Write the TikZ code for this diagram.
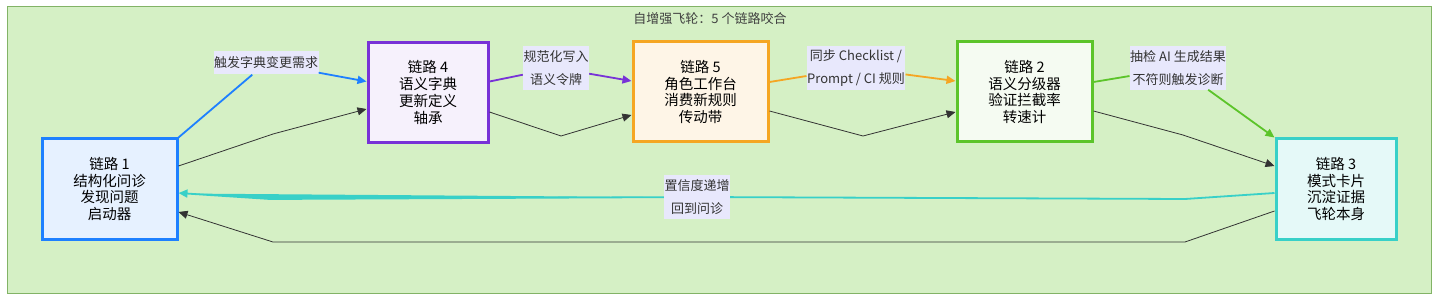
\documentclass[tikz,border=0pt]{standalone}
\usepackage{fontspec}
\setmainfont{Noto Sans CJK SC}
\usetikzlibrary{arrows.meta}
\definecolor{wheelbg}{RGB}{213,240,197}
\definecolor{wheelrim}{RGB}{130,179,102}
\definecolor{tagbg}{RGB}{232,232,252}
\definecolor{linkblue}{RGB}{30,128,255}
\definecolor{linkpurple}{RGB}{120,50,215}
\definecolor{linkorange}{RGB}{245,166,35}
\definecolor{linkgreen}{RGB}{92,196,42}
\definecolor{linkteal}{RGB}{56,208,200}

\begin{document}
\begin{tikzpicture}[x=1pt,y=-1pt,
  link/.style={draw,line width=3pt,align=center,inner sep=0pt,minimum height=100pt,font=\fontsize{14.5}{16.8}\selectfont},
  tag/.style={fill=tagbg,align=center,text=black!80,inner xsep=0.5pt,inner ysep=4pt,minimum height=23pt,font=\fontsize{13}{23}\selectfont},
  flow/.style={-{Triangle[length=9pt,width=8pt]},line width=1.8pt},
  back/.style={-{Triangle[length=9pt,width=8pt]},draw=black!80,line width=0.8pt},
]
\useasboundingbox (0,0) rectangle (1438,302);
\draw[fill=wheelbg,draw=wheelrim,line width=1pt] (7,7) rectangle (1431,293);
\node[font=\fontsize{13}{15}\selectfont,text=black!75] (title) at (710,19) {自增强飞轮：5 个链路咬合};

\node[link,draw=linkblue,fill=linkblue!11,minimum width=135pt] (l1) at (109.5,189) {链路 1\\结构化问诊\\发现问题\\启动器};
\node[link,draw=linkpurple,fill=linkpurple!7,minimum width=120pt] (l4) at (428,92.5) {链路 4\\语义字典\\更新定义\\轴承};
\node[link,draw=linkorange,fill=linkorange!11,minimum width=135pt] (l5) at (700.5,92) {链路 5\\角色工作台\\消费新规则\\传动带};
\node[link,draw=linkgreen,fill=linkgreen!6,minimum width=135pt] (l2) at (1024.5,92) {链路 2\\语义分级器\\验证拦截率\\转速计};
\node[link,draw=linkteal,fill=linkteal!13,minimum width=120pt] (l3) at (1336,189) {链路 3\\模式卡片\\沉淀证据\\飞轮本身};

\node[tag] (t14) at (266,63) {触发字典变更需求};
\node[tag] (t45) at (556,68) {规范化写入\\语义令牌};
\node[tag] (t52) at (856,68) {同步 Checklist /\\Prompt / CI 规则};
\node[tag] (t23) at (1178,68) {抽检 AI 生成结果\\不符则触发诊断};
\node[tag] (t31) at (697,197) {置信度递增\\回到问诊};

\draw[flow,-,draw=linkblue] (l1.north east) -- (t14);
\draw[flow,draw=linkblue,fill=linkblue] (t14) -- ([yshift=11pt]l4.west);
\draw[flow,-,draw=linkpurple] ([yshift=11pt]l4.east) -- (t45);
\draw[flow,draw=linkpurple,fill=linkpurple] (t45) -- ([yshift=11pt]l5.west);
\draw[flow,-,draw=linkorange] ([yshift=10pt]l5.east) -- (t52);
\draw[flow,draw=linkorange,fill=linkorange] (t52) -- ([yshift=11pt]l2.west);
\draw[flow,-,draw=linkgreen] ([yshift=10pt]l2.east) -- (t23);
\draw[flow,draw=linkgreen,fill=linkgreen] (t23) -- (l3.north west);

\coordinate (b14) at (273,134);
\coordinate (b45) at (561,136);
\coordinate (b52) at (863,136);
\coordinate (b23) at (1183,135);
\coordinate (c31a) at (1185,199);
\coordinate (c31b) at (270,199);
\coordinate (d31a) at (1185,242);
\coordinate (d31b) at (273,242);

\draw[back] ([yshift=23pt]l1.east) -- (b14) -- ([yshift=-16.5pt]l4.west);
\draw[back] ([yshift=-19.5pt]l4.east) -- (b45) -- ([yshift=-23pt]l5.west);
\draw[back] ([yshift=-19pt]l5.east) -- (b52) -- ([yshift=-20pt]l2.west);
\draw[back] ([yshift=-19pt]l2.east) -- (b23) -- ([yshift=23pt]l3.west);
\draw[flow,-,draw=linkteal] ([yshift=-4pt]l3.west) -- (c31a) -- (t31);
\draw[flow,draw=linkteal,fill=linkteal] (t31) -- (c31b) -- ([yshift=-4pt]l1.east);
\draw[back] ([yshift=-22pt]l3.west) -- (d31a) -- (d31b) -- ([yshift=-23pt]l1.east);
\end{tikzpicture}
\end{document}
